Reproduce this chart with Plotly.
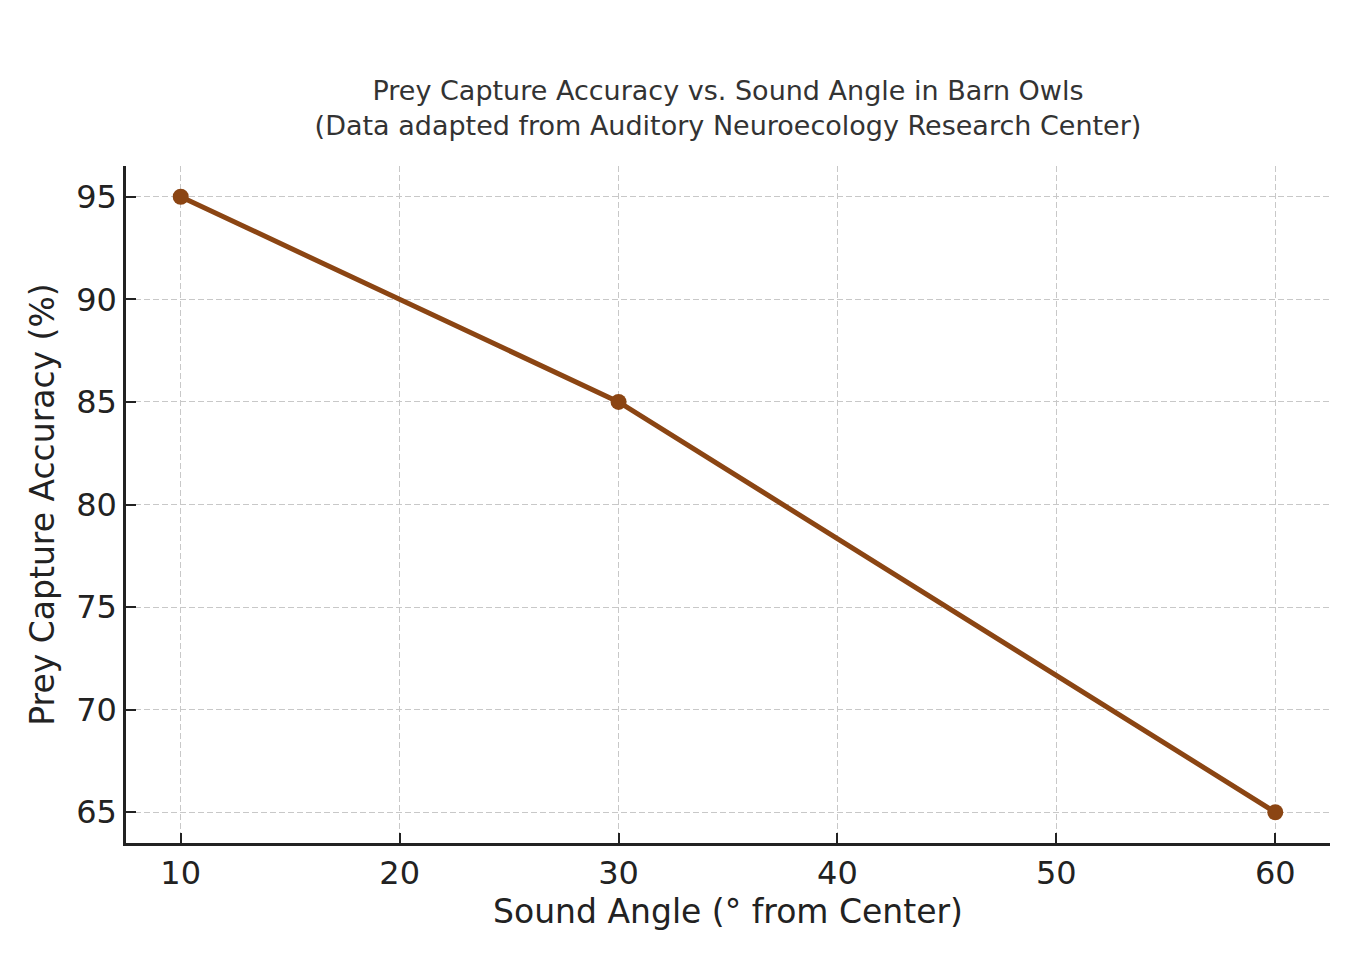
import plotly.graph_objects as go

angles = [10, 30, 60]
accuracy = [95, 85, 65]
x_ticks = [10, 20, 30, 40, 50, 60]
y_ticks = [65, 70, 75, 80, 85, 90, 95]

FONT = "DejaVu Sans"
fig = go.Figure()
fig.add_trace(go.Scatter(
    x=angles, y=accuracy, mode="lines+markers",
    line=dict(color="#8B4513", width=5),
    marker=dict(color="#8B4513", size=16),
    showlegend=False,
))

axis_common = dict(
    showline=True, linecolor="#222222", linewidth=2.5, mirror=False,
    ticks="inside", ticklen=10, tickwidth=2, tickcolor="#222222",
    showgrid=True, gridcolor="#c8c8c8", gridwidth=1.3, griddash="6px,3px",
    zeroline=False,
    tickfont=dict(family=FONT, size=32, color="#222222"),
)

fig.update_layout(
    width=1360, height=960,
    paper_bgcolor="white", plot_bgcolor="white",
    margin=dict(l=126, r=30, t=166, b=117),
    font=dict(family=FONT, color="#222222"),
    title=dict(
        text="Prey Capture Accuracy vs. Sound Angle in Barn Owls<br>(Data adapted from Auditory Neuroecology Research Center)",
        x=(126 + 1330) / 2 / 1360, xanchor="center",
        y=1 - 100 / 960, yanchor="middle", yref="container",
        font=dict(family=FONT, size=27, color="#333333"),
    ),
    xaxis=dict(
        range=[7.5, 62.5], tickvals=x_ticks,
        title=dict(text="Sound Angle (° from Center)", font=dict(family=FONT, size=33, color="#222222"), standoff=8),
        **axis_common,
    ),
    yaxis=dict(
        range=[63.5, 96.5], tickvals=y_ticks,
        title=dict(text="Prey Capture Accuracy (%)", font=dict(family=FONT, size=33, color="#222222"), standoff=12),
        **axis_common,
    ),
)

fig.write_html("out.html")
